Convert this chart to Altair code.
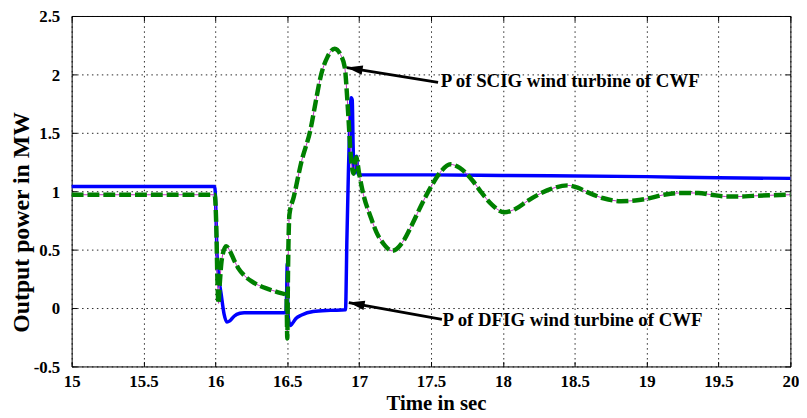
import altair as alt
import pandas as pd

# ---- data ----
t_dfig = [15.0, 15.995, 16.002, 16.01, 16.025, 16.04, 16.06, 16.08, 16.1, 16.13, 16.17, 16.2,
          16.49, 16.495, 16.5, 16.505, 16.52, 16.53, 16.56, 16.6, 16.68, 16.8, 16.905, 16.915,
          16.925, 16.935, 16.945, 16.952, 16.958, 16.965, 16.975, 16.982, 16.99, 17.0, 17.5,
          18.0, 19.0, 19.5, 20.0]
p_dfig = [1.04, 1.04, 0.9, 0.5, 0.25, 0.12, -0.05, -0.12, -0.11, -0.07, -0.045, -0.04,
          -0.04, 0.1, 0.38, -0.05, -0.15, -0.14, -0.09, -0.06, -0.03, -0.02, -0.015, 0.6,
          1.15, 1.6, 1.8, 1.78, 1.4, 1.15, 1.2, 1.3, 1.16, 1.14, 1.14,
          1.135, 1.125, 1.115, 1.11]

t_scig = [15.0, 15.995, 16.005, 16.015, 16.022, 16.03, 16.045, 16.075, 16.1, 16.13, 16.16, 16.2,
          16.25, 16.3, 16.35, 16.4, 16.45, 16.49, 16.495, 16.5, 16.505, 16.515, 16.545, 16.6,
          16.66, 16.7, 16.73, 16.78, 16.83, 16.87, 16.9, 16.92, 16.945, 16.96, 16.98, 17.0,
          17.03, 17.08, 17.12, 17.17, 17.23, 17.3, 17.37, 17.44, 17.51, 17.57, 17.635, 17.7,
          17.79, 17.85, 17.92, 18.01, 18.09, 18.175, 18.26, 18.335, 18.45, 18.52, 18.59, 18.7,
          18.82, 18.92, 19.0, 19.12, 19.23, 19.36, 19.45, 19.55, 19.65, 19.74, 19.85, 20.0]
p_scig = [0.97, 0.97, 0.75, 0.2, 0.04, 0.2, 0.42, 0.53, 0.49, 0.41, 0.34, 0.28,
          0.23, 0.195, 0.17, 0.15, 0.13, 0.115, 0.1, -0.26, 0.3, 0.8, 0.95, 1.26,
          1.52, 1.78, 1.97, 2.15, 2.22, 2.17, 2.06, 1.74, 1.26, 1.15, 1.29, 1.15,
          0.97, 0.78, 0.65, 0.55, 0.49, 0.56, 0.72, 0.9, 1.06, 1.17, 1.23, 1.2,
          1.09, 0.99, 0.89, 0.82, 0.85, 0.92, 0.98, 1.02, 1.05, 1.03, 0.99, 0.94,
          0.915, 0.92, 0.935, 0.97, 0.985, 0.985, 0.97, 0.955, 0.955, 0.96, 0.965, 0.97]

x_ticks = [15, 15.5, 16, 16.5, 17, 17.5, 18, 18.5, 19, 19.5, 20]
y_ticks = [-0.5, 0, 0.5, 1, 1.5, 2, 2.5]

ann_labels = ["P of SCIG wind turbine of CWF", "P of DFIG wind turbine of CWF"]
ann_label_t = [17.567, 17.58]
ann_label_p = [1.94, -0.102]
arrow_tip_t = [16.914, 16.928]
arrow_tip_p = [2.059, 0.047]
arrow_tail_t = [17.549, 17.576]
arrow_tail_p = [1.931, -0.098]

# ---- tables ----
dfig = pd.DataFrame({"t": t_dfig, "p": p_dfig})
scig = pd.DataFrame({"t": t_scig, "p": p_scig})
labels = pd.DataFrame({"t": ann_label_t, "p": ann_label_p, "txt": ann_labels})
shafts = pd.DataFrame({
    "t": arrow_tail_t + arrow_tip_t,
    "p": arrow_tail_p + arrow_tip_p,
    "id": [0, 1, 0, 1],
})
heads = pd.DataFrame({"t": arrow_tip_t, "p": arrow_tip_p, "ang": [279.5, 280.3]})

FONT = "Liberation Serif"
W, H = 726, 354

xs = alt.Scale(domain=[15, 20], nice=False, zero=False)
ys = alt.Scale(domain=[-0.5, 2.5], nice=False, zero=False)

x_plain = alt.X("t:Q", scale=xs, axis=None)
y_plain = alt.Y("p:Q", scale=ys, axis=None)

x_main = alt.X("t:Q", scale=xs, axis=alt.Axis(
    orient="bottom", values=x_ticks, offset=-5, tickSize=5, tickColor="black", tickWidth=1,
    domain=False, grid=True, gridColor="black", gridDash=[1.5, 3.5], gridWidth=1, gridOpacity=0.85,
    labelExpr="'' + datum.value", labelFont=FONT, labelFontSize=17, labelFontWeight="bold",
    labelColor="black", labelPadding=7, labelFlush=False,
    title="Time in sec", titleFont=FONT, titleFontSize=21, titleFontWeight="bold",
    titleColor="black", titleX=368, titleY=42, titleBaseline="middle", titleAlign="center"))
y_main = alt.Y("p:Q", scale=ys, axis=alt.Axis(
    orient="left", values=y_ticks, offset=-5, tickSize=5, tickColor="black", tickWidth=1,
    domain=False, grid=True, gridColor="black", gridDash=[1.5, 3.5], gridWidth=1, gridOpacity=0.85,
    labelExpr="'' + datum.value", labelFont=FONT, labelFontSize=17, labelFontWeight="bold",
    labelColor="black", labelPadding=12, labelFlush=False, labelOffset=1,
    title="Output power in MW", titleFont=FONT, titleFontSize=24, titleFontWeight="bold",
    titleColor="black", titleAngle=270, titleX=-56, titleY=208, titleBaseline="middle",
    titleAlign="center"))

x_top = alt.X("t:Q", scale=xs, axis=alt.Axis(
    orient="top", values=x_ticks, offset=-5, tickSize=5, tickColor="black", tickWidth=1,
    domain=False, grid=False, labels=False, title=None))
y_right = alt.Y("p:Q", scale=ys, axis=alt.Axis(
    orient="right", values=y_ticks, offset=-5, tickSize=5, tickColor="black", tickWidth=1,
    domain=False, grid=False, labels=False, title=None))

blue = alt.Chart(dfig).mark_line(color="#0000FF", strokeWidth=3.5, interpolate="monotone").encode(
    x=x_main, y=y_main, order="t:Q")
axes2 = alt.Chart(dfig).mark_line(opacity=0, interpolate="monotone").encode(
    x=x_top, y=y_right, order="t:Q")
magenta = alt.Chart(scig).mark_line(color="#C030C0", strokeWidth=1, interpolate="monotone").encode(
    x=x_plain, y=y_plain, order="t:Q")
green = alt.Chart(scig).mark_line(color="#008000", strokeWidth=4.5, strokeDash=[12, 4],
                                  interpolate="monotone").encode(x=x_plain, y=y_plain, order="t:Q")

shaft = alt.Chart(shafts).mark_line(color="black", strokeWidth=2.8).encode(
    x=x_plain, y=y_plain, detail="id:N")
head = alt.Chart(heads).mark_point(
    shape="M0,0L0.6,2L-0.6,2Z", filled=True, size=256, color="black", opacity=1, strokeWidth=0
).encode(x=x_plain, y=y_plain, angle=alt.Angle("ang:Q", scale=None))
text = alt.Chart(labels).mark_text(
    font=FONT, fontSize=19, fontWeight="bold", color="black", align="left", baseline="middle"
).encode(x=x_plain, y=y_plain, text="txt:N")

chart = alt.layer(blue, axes2, magenta, green, shaft, head, text).resolve_axis(
    x="independent", y="independent"
).properties(
    width=W, height=H,
    autosize=alt.AutoSizeParams(type="none"),
    padding={"left": 64.3, "top": 6, "right": 8.7, "bottom": 50},
    background="white",
).configure_view(stroke="black", strokeWidth=1)

chart.save("out.html", embed_options={"renderer": "svg", "actions": False})
